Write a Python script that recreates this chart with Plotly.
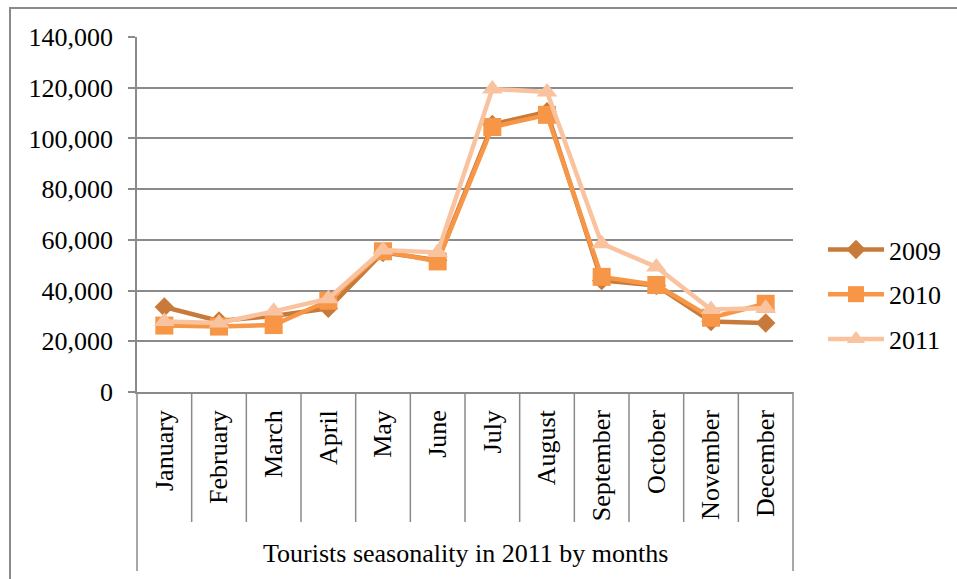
import plotly.graph_objects as go

months = ["January", "February", "March", "April", "May", "June", "July",
          "August", "September", "October", "November", "December"]
tourists_2009 = [33500, 28000, 30000, 33000, 55000, 52000, 105500, 110500, 44000, 42000, 27800, 27200]
tourists_2010 = [26200, 25800, 26400, 36000, 55500, 51500, 104500, 109300, 45400, 42200, 29300, 34800]
tourists_2011 = [27800, 27200, 31800, 36800, 56000, 55000, 119500, 118300, 58500, 49300, 32500, 33000]

W, H = 957, 579
L, R, T, B = 137, 793, 37, 392  # plot area in pixels
PW, PH = R - L, B - T


def px_x(p):
    return (p - L) / PW


def px_y(p):
    return (B - p) / PH


GRID = "#8a8a8a"
FONT = "'Liberation Serif', 'Times New Roman', serif"
FS = 26

fig = go.Figure()
series = [
    ("2009", tourists_2009, "#c87a3a", "diamond", 15),
    ("2010", tourists_2010, "#f79646", "square", 18),
    ("2011", tourists_2011, "#fac3a0", "triangle-up", 18),
]
for name, vals, col, sym, size in series:
    fig.add_trace(go.Scatter(
        x=months, y=vals, name=name, legendgroup=name,
        mode="lines+markers",
        line=dict(color=col, width=4.5),
        marker=dict(symbol=sym, size=size, color=col),
    ))

shapes = []
# category separators below the axis
for i in range(1, len(months)):
    shapes.append(dict(type="line", xref="x", yref="paper",
                       x0=i - 0.5, x1=i - 0.5, y0=0, y1=px_y(522),
                       line=dict(color=GRID, width=1.5)))
# outer group edges
for xp in (0, 1):
    shapes.append(dict(type="line", xref="paper", yref="paper",
                       x0=xp, x1=xp, y0=px_y(392), y1=px_y(571),
                       line=dict(color=GRID, width=1.5)))
# chart frame
fx0, fy0 = px_x(10), px_y(8)
fx1, fy1 = px_x(975), px_y(600)
shapes.append(dict(type="path", xref="paper", yref="paper",
                   path=f"M {fx0} {fy1} L {fx0} {fy0} L {fx1} {fy0}",
                   line=dict(color=GRID, width=2)))

fig.update_layout(
    width=W, height=H,
    margin=dict(l=L, r=W - R, t=T, b=H - B, autoexpand=False),
    paper_bgcolor="white", plot_bgcolor="white",
    font=dict(family=FONT, size=FS, color="black"),
    showlegend=True,
    legend=dict(x=px_x(823), y=px_y(226), xanchor="left", yanchor="top",
                itemwidth=56, tracegroupgap=8, font=dict(family=FONT, size=FS),
                bgcolor="rgba(0,0,0,0)"),
    shapes=shapes,
    annotations=[dict(text="Tourists seasonality in 2011 by months",
                      xref="paper", yref="paper", x=0.5, y=px_y(553),
                      xanchor="center", yanchor="middle", showarrow=False,
                      font=dict(family=FONT, size=FS))],
    xaxis=dict(type="category", range=[-0.5, 11.5], showgrid=False,
               showline=True, linecolor=GRID, linewidth=1.5,
               tickangle=-90, ticks="", tickfont=dict(family=FONT, size=FS),
               ticklabelstandoff=6, automargin=False),
    yaxis=dict(range=[0, 140000], dtick=20000, tickformat=",",
               showgrid=True, gridcolor=GRID, gridwidth=1.5,
               zeroline=False, showline=True, linecolor=GRID, linewidth=1.5,
               ticks="outside", ticklen=7, tickcolor=GRID, tickwidth=1.5,
               tickfont=dict(family=FONT, size=FS), ticklabelstandoff=10,
               automargin=False),
)

fig.write_html("out.html")
